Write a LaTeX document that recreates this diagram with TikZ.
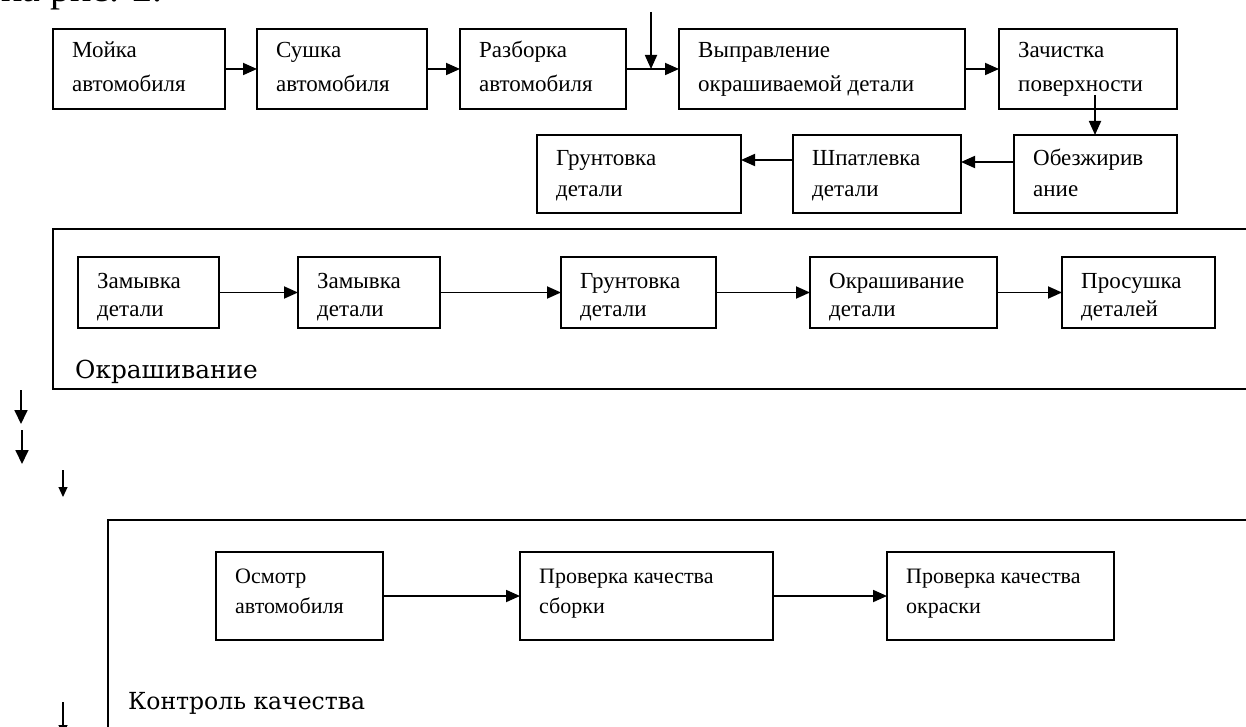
\documentclass[tikz,border=0pt]{standalone}
\usepackage{fontspec}
\setmainfont{Liberation Serif}
\newfontfamily\lblfont{DejaVu Serif}
\usetikzlibrary{arrows.meta}
\tikzset{
  boxst/.style={draw, line width=1.8pt, rectangle, inner sep=0pt, outer sep=0pt},
  txt/.style={inner sep=0pt, font=\fontsize{23}{28}\selectfont},
  lbl/.style={inner sep=0pt, font=\lblfont\fontsize{23.5}{28}\selectfont},
  arr/.style={line width=1.8pt, -{Triangle[length=14pt,width=12pt]}},
  larr/.style={line width=1.8pt, -{Triangle[length=14pt,width=13pt]}},
  sarr/.style={line width=1.2pt, -{Triangle[length=10pt,width=9pt]}},
  framest/.style={line width=1.8pt},
}
% name, x1, y1, x2, y2, baseline1, baseline2, line1, line2
\newcommand\pbox[9]{%
  \node[boxst, anchor=north west, minimum width={#4-#2}, minimum height={#5-#3}] (#1) at (#2,#3) {};
  \node[txt, anchor=base west] (#1a) at ({#2+19},#6) {#8};
  \node[txt, anchor=base west] (#1b) at ({#2+19},#7) {#9};
}
\begin{document}
\begin{tikzpicture}[x=1pt, y=-1pt]
\useasboundingbox (0,0) rectangle (1246,727);
\clip (0,0) rectangle (1246,727);
\fill[white] (0,0) rectangle (1246,727);

% clipped caption line above
\node[inner sep=0pt, anchor=base west, font=\fontsize{40}{48}\selectfont] (cap) at (1,2) {на рис. 2.};

% top row
\pbox{b1}{53}{29}{225}{109}{58}{92}{Мойка}{автомобиля}
\pbox{b2}{257}{29}{427}{109}{58}{92}{Сушка}{автомобиля}
\pbox{b3}{460}{29}{626}{109}{58}{92}{Разборка}{автомобиля}
\pbox{b4}{679}{29}{965}{109}{58}{92}{Выправление}{окрашиваемой детали}
\pbox{b5}{999}{29}{1177}{109}{58}{92}{Зачистка}{поверхности}
% second row
\pbox{b6}{1014}{135}{1177}{213}{166}{197}{Обезжирив}{ание}
\pbox{b7}{793}{135}{961}{213}{166}{197}{Шпатлевка}{детали}
\pbox{b8}{537}{135}{741}{213}{166}{197}{Грунтовка}{детали}

\draw[arr] (b1.east) -- (b2.west);
\draw[arr] (b2.east) -- (b3.west);
\draw[arr] (b3.east) -- (b4.west);
\coordinate (jt) at (651,12);
\draw[arr] (jt) -- (jt |- b3.east);
\draw[arr] (b4.east) -- (b5.west);
\coordinate (d5) at (1095,95);
\draw[arr] (d5) -- (d5 |- b6.north);
\coordinate (r6) at (0,162);
\draw[arr] (b6.west |- r6) -- (b7.east |- r6);
\coordinate (r7) at (0,160);
\draw[arr] (b7.west |- r7) -- (b8.east |- r7);

% painting frame
\draw[framest] (1250,229) -- (53,229) -- (53,389) -- (1250,389);
\pbox{c1}{78}{257}{219}{328}{288}{316}{Замывка}{детали}
\pbox{c2}{298}{257}{440}{328}{288}{316}{Замывка}{детали}
\pbox{c3}{561}{257}{716}{328}{288}{316}{Грунтовка}{детали}
\pbox{c4}{810}{257}{997}{328}{288}{316}{Окрашивание}{детали}
\pbox{c5}{1062}{257}{1215}{328}{288}{316}{Просушка}{деталей}
\draw[arr] (c1.east) -- (c2.west);
\draw[arr] (c2.east) -- (c3.west);
\draw[arr] (c3.east) -- (c4.west);
\draw[arr] (c4.east) -- (c5.west);
\node[lbl, anchor=base west, font=\lblfont\fontsize{24.8}{28}\selectfont] (okl) at (75,378) {Окрашивание};

% left arrows
\coordinate (l1s) at (21,390); \coordinate (l1e) at (21,424);
\draw[larr] (l1s) -- (l1e);
\coordinate (l2s) at (22,430); \coordinate (l2e) at (22,464);
\draw[larr] (l2s) -- (l2e);
\coordinate (l3s) at (63,470); \coordinate (l3e) at (63,497);
\draw[sarr] (l3s) -- (l3e);
\coordinate (l4s) at (63,702); \coordinate (l4e) at (63,735);
\draw[sarr] (l4s) -- (l4e);

% quality control frame
\draw[framest] (1250,520) -- (108,520) -- (108,740);
\begin{scope}[txt/.style={inner sep=0pt, font=\fontsize{22}{26}\selectfont}]
\pbox{k1}{216}{552}{383}{640}{583}{613}{Осмотр}{автомобиля}
\pbox{k2}{520}{552}{773}{640}{583}{613}{Проверка качества}{сборки}
\pbox{k3}{887}{552}{1114}{640}{583}{613}{Проверка качества}{окраски}
\end{scope}
\draw[arr] (k1.east) -- (k2.west);
\draw[arr] (k2.east) -- (k3.west);
\node[lbl, anchor=base west] (kkl) at (128,709) {Контроль качества};
\end{tikzpicture}
\end{document}
